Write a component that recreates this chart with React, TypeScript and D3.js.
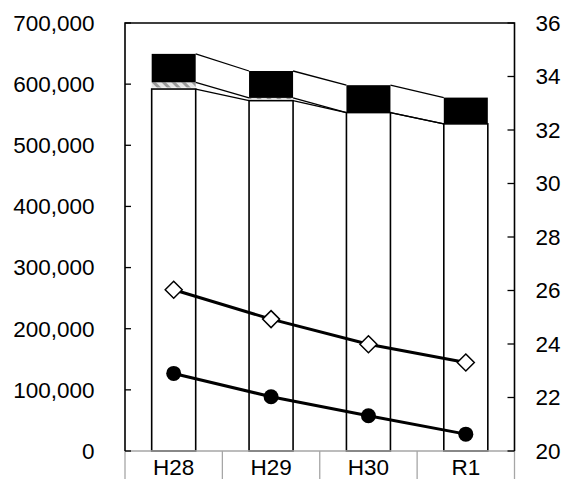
import React from 'react';
import * as d3 from 'd3';

const categories = ['H28', 'H29', 'H30', 'R1'];
// stacked bar series (left axis)
const baseValues = [592000, 573000, 553500, 535000];
const hatchValues = [11000, 4500, 0, 0];
const blackValues = [46500, 44000, 44800, 43000];
// line series (right axis)
const diamondValues = [26.03, 24.93, 23.99, 23.31];
const circleValues = [22.9, 22.03, 21.32, 20.63];
const leftTicks = [0, 100000, 200000, 300000, 400000, 500000, 600000, 700000];
const rightTicks = [20, 22, 24, 26, 28, 30, 32, 34, 36];

const W = 563;
const H = 479;
const left = 125;
const right = 514.5;
const top = 23;
const bottom = 451;
const font = '"Liberation Sans", Arial, sans-serif';
const axisGray = '#a6a6a6';
const fs = 22.5;

const App: React.FC = () => {
  const x = d3.scaleBand<string>()
    .domain(categories)
    .range([left, right])
    .paddingInner(0.548)
    .paddingOuter(0.274);

  const xCat = d3.scaleBand<string>()
    .domain(categories)
    .range([left, right])
    .padding(0);

  const y = d3.scaleLinear().domain([0, 700000]).range([bottom, top]);
  const y2 = d3.scaleLinear().domain([20, 36]).range([bottom, top]);

  const fmt = d3.format(',');
  const bw = x.bandwidth();
  const cx = (c: string) => x(c)! + bw / 2;

  // stacked tops
  const stacked = categories.map((c, i) => {
    const a = baseValues[i];
    const b = a + hatchValues[i];
    const t = b + blackValues[i];
    return { c, a, b, t };
  });

  const line = d3.line<number>()
    .x((_, i) => cx(categories[i]))
    .y(d => y2(d));

  const seriesLines: { x1: number; y1: number; x2: number; y2: number }[] = [];
  for (let i = 0; i < stacked.length - 1; i++) {
    const s0 = stacked[i];
    const s1 = stacked[i + 1];
    const xa = x(s0.c)! + bw;
    const xb = x(s1.c)!;
    (['a', 'b', 't'] as const).forEach(k => {
      seriesLines.push({ x1: xa, y1: y(s0[k]), x2: xb, y2: y(s1[k]) });
    });
  }

  const diamond = (px: number, py: number, r: number) =>
    `M${px},${py - r}L${px + r},${py}L${px},${py + r}L${px - r},${py}Z`;

  return (
    <svg width={W} height={H} style={{ position: 'absolute', left: 0, top: 0, background: '#fff' }}
      fontFamily={font}>
      <defs>
        <pattern id="hatch" width="7" height="7" patternUnits="userSpaceOnUse" patternTransform="rotate(-45)">
          <rect width="7" height="7" fill="#e6e6e6" />
          <rect width="3" height="7" fill="#9a9a9a" />
        </pattern>
      </defs>

      {/* bars */}
      {stacked.map(s => (
        <g key={s.c}>
          <rect x={x(s.c)} y={y(s.a)} width={bw} height={y(0) - y(s.a)}
            fill="#fff" stroke="#000" strokeWidth={1.6} />
          {s.b > s.a && (
            <rect x={x(s.c)} y={y(s.b)} width={bw} height={y(s.a) - y(s.b) - 1.5}
              fill="url(#hatch)" />
          )}
          <rect x={x(s.c)} y={y(s.t)} width={bw} height={y(s.b) - y(s.t)} fill="#000" />
        </g>
      ))}

      {/* series lines */}
      {seriesLines.map((l, i) => (
        <line key={i} x1={l.x1} y1={l.y1} x2={l.x2} y2={l.y2} stroke="#000" strokeWidth={1.3} />
      ))}

      {/* category axis */}
      <line x1={left} x2={right} y1={bottom} y2={bottom} stroke={axisGray} strokeWidth={1.3} />
      {[...categories.map(c => xCat(c)!), right].map((px, i) => (
        <line key={i} x1={px} x2={px} y1={bottom} y2={H} stroke={axisGray} strokeWidth={1.3} />
      ))}
      {categories.map(c => (
        <text key={c} x={xCat(c)! + xCat.bandwidth() / 2} y={467} dy="0.35em"
          textAnchor="middle" fontSize={fs} fill="#000">{c}</text>
      ))}

      {/* plot frame and value axes */}
      <path d={`M${left},${bottom}V${top}H${right}V${bottom}`} fill="none" stroke="#000" strokeWidth={1.6} />
      {leftTicks.map(t => (
        <g key={t}>
          <line x1={left} x2={left + 6} y1={y(t)} y2={y(t)} stroke="#000" strokeWidth={1.3} />
          <text x={94.5} y={y(t)} dy="0.35em" textAnchor="end" fontSize={fs} fill="#000">{fmt(t)}</text>
        </g>
      ))}
      {rightTicks.map(t => (
        <g key={t}>
          <line x1={right - 7} x2={right} y1={y2(t)} y2={y2(t)} stroke="#000" strokeWidth={1.3} />
          <text x={535.5} y={y2(t)} dy="0.35em" textAnchor="start" fontSize={fs} fill="#000">{t}</text>
        </g>
      ))}

      {/* line series */}
      <path d={line(diamondValues)!} fill="none" stroke="#000" strokeWidth={3} />
      <path d={line(circleValues)!} fill="none" stroke="#000" strokeWidth={3} />
      {diamondValues.map((v, i) => (
        <path key={i} d={diamond(cx(categories[i]), y2(v), 8.5)} fill="#fff" stroke="#000" strokeWidth={1.5} />
      ))}
      {circleValues.map((v, i) => (
        <circle key={i} cx={cx(categories[i])} cy={y2(v)} r={7.5} fill="#000" />
      ))}
    </svg>
  );
};

export default App;
